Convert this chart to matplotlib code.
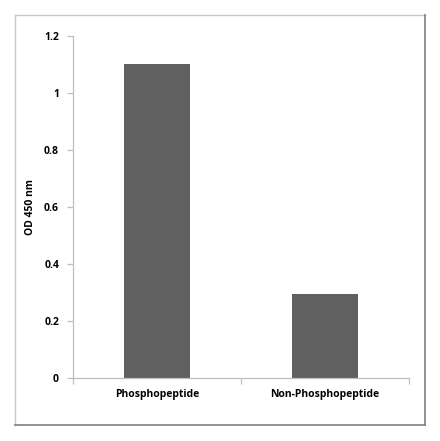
import matplotlib
matplotlib.use("Agg")
import matplotlib.pyplot as plt
from matplotlib.lines import Line2D

categories = ["Phosphopeptide", "Non-Phosphopeptide"]
values = [1.10, 0.295]
yticks = [0, 0.2, 0.4, 0.6, 0.8, 1, 1.2]
ytick_labels = ["0", "0.2", "0.4", "0.6", "0.8", "1", "1.2"]

plt.rcParams['font.family'] = ['Open Sans', 'DejaVu Sans']

W, H = 440, 441
fig = plt.figure(figsize=(W / 100, H / 100), dpi=100)

# outer chart-area border
def fx(x): return x / W
def fy(y): return 1 - y / H
light, dark = "#c8c8c8", "#7f7f7f"
fig.add_artist(Line2D([fx(15), fx(425)], [fy(15), fy(15)], color=light, lw=1.0, transform=fig.transFigure))
fig.add_artist(Line2D([fx(15), fx(15)], [fy(15), fy(425)], color=light, lw=1.0, transform=fig.transFigure))
fig.add_artist(Line2D([fx(425), fx(425)], [fy(15), fy(425)], color=dark, lw=1.2, transform=fig.transFigure))
fig.add_artist(Line2D([fx(15), fx(425)], [fy(425), fy(425)], color=dark, lw=1.2, transform=fig.transFigure))

left, right = 73 / W, 408.7 / W
bottom, top = 1 - 377.7 / H, 1 - 35.7 / H
ax = fig.add_axes([left, bottom, right - left, top - bottom])

x = list(range(len(categories)))
ax.bar(x, values, width=0.395, color="#606060", edgecolor="none", zorder=2)

ax.set_xlim(-0.5, len(categories) - 0.5)
ax.set_ylim(0, 1.2)
ax.set_yticks(yticks)
ax.set_yticklabels(ytick_labels, fontsize=7.5, fontweight="bold")
ax.set_xticks(x)
ax.set_xticklabels(categories, fontsize=7.5, fontweight="bold")
ax.set_xticks([-0.5, 0.5, 1.5], minor=True)

for s in ["top", "right"]:
    ax.spines[s].set_visible(False)
for s in ["left", "bottom"]:
    ax.spines[s].set_color("#bfbfbf")
    ax.spines[s].set_linewidth(0.9)

ax.tick_params(axis="y", which="major", length=4, width=0.9, color="#bfbfbf", pad=6, direction="out")
ax.tick_params(axis="x", which="major", length=0, pad=8)
ax.tick_params(axis="x", which="minor", length=4, width=0.9, color="#bfbfbf", direction="out")

ax.set_ylabel("OD 450 nm", fontsize=7.5, fontweight="bold")
ax.yaxis.set_label_coords((36 - 73) / 335.7, 0.5)

fig.savefig("out.png", dpi=100)
